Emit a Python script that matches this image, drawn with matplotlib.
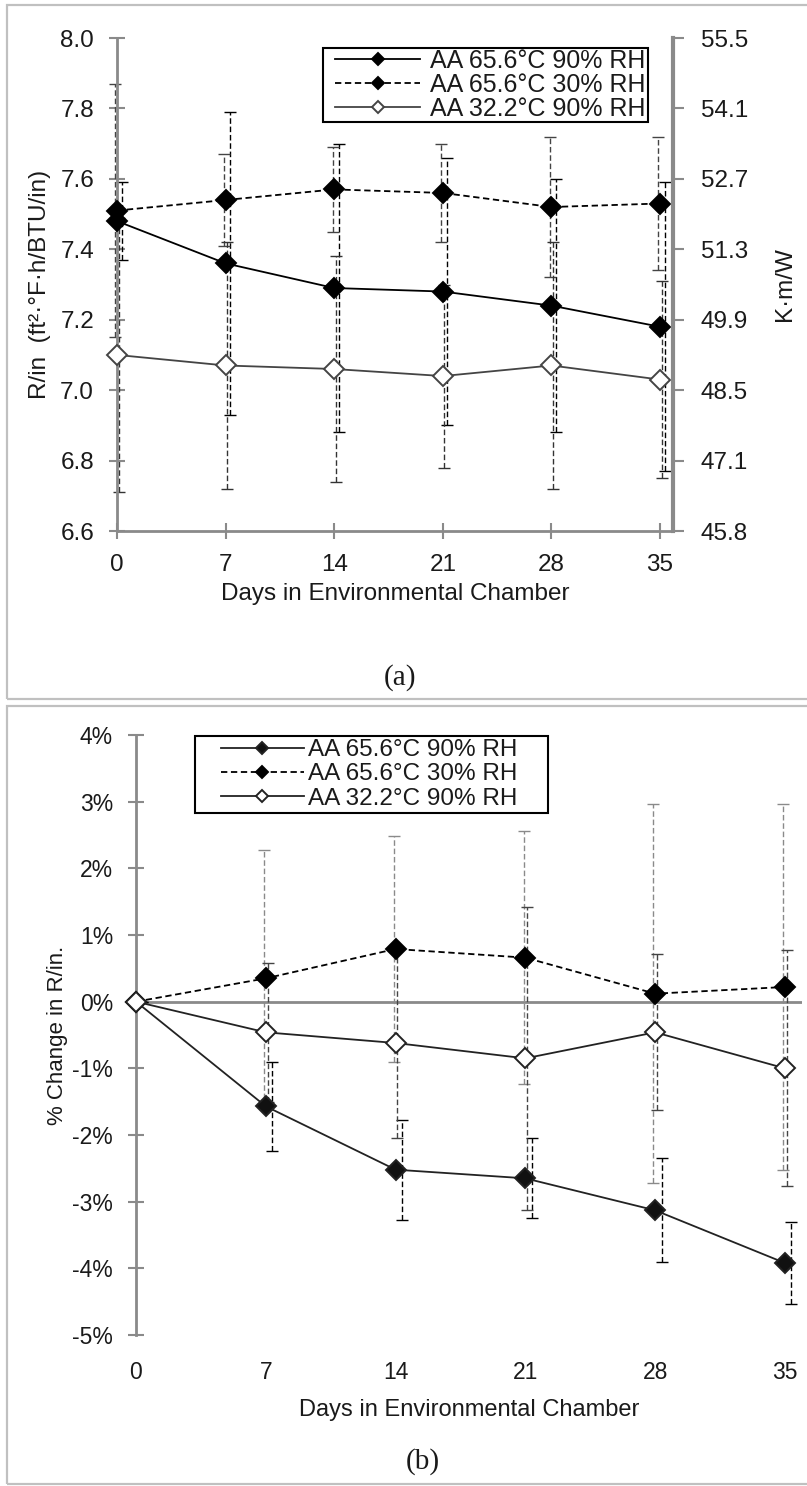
import numpy as np
import matplotlib.pyplot as plt
from matplotlib.patches import Rectangle

# Datos
days = [0, 7, 14, 21, 28, 35]
series_names = ['AA 65.6°C 90% RH', 'AA 65.6°C 30% RH', 'AA 32.2°C 90% RH']

# R/in (ft²·°F·h/BTU/in)
r_hot_wet = [7.48, 7.36, 7.29, 7.28, 7.24, 7.18]
r_hot_dry = [7.51, 7.54, 7.57, 7.56, 7.52, 7.53]
r_warm_wet = [7.10, 7.07, 7.06, 7.04, 7.07, 7.03]
r_hot_wet_err = [0.11, 0.43, 0.41, 0.38, 0.36, 0.41]
r_hot_dry_err = [0.36, 0.13, 0.12, 0.14, 0.20, 0.19]
r_warm_wet_err = [0.39, 0.35, 0.32, 0.26, 0.35, 0.28]

# % de cambio en R/in
pct_hot_wet = [0, -1.57, -2.52, -2.65, -3.13, -3.92]
pct_hot_dry = [0, 0.35, 0.79, 0.66, 0.12, 0.22]
pct_warm_wet = [0, -0.46, -0.62, -0.85, -0.46, -1.00]
pct_hot_wet_err = [0, 0.67, 0.75, 0.60, 0.78, 0.61]
pct_hot_dry_err = [0, 1.93, 1.69, 1.90, 2.84, 2.75]
pct_warm_wet_err = [0, 1.04, 1.43, 2.27, 1.17, 1.77]

r_ticks = [6.6, 6.8, 7.0, 7.2, 7.4, 7.6, 7.8, 8.0]
pct_ticks = [-5, -4, -3, -2, -1, 0, 1, 2, 3, 4]
SI_PER_R_IN = 6.933  # K·m/W por R/in

plt.rcParams['font.family'] = ['Liberation Sans', 'DejaVu Sans']

W, H = 807, 1486
AXIS_GRAY = '#8a8a8a'
TEXT = '#1a1a1a'
DASH = (0, (4, 2))


def px_axes(fig, left, top, right, bottom):
    # posición en píxeles -> fracción de figura
    return fig.add_axes([left / W, 1 - bottom / H, (right - left) / W, (bottom - top) / H])


def draw_series(ax, y, err, line_color, ls, face, ecolor, offset, label):
    x = np.array(days, dtype=float)
    eb = ax.errorbar(x + offset, y, yerr=err, fmt='none', ecolor=ecolor,
                     elinewidth=1.0, capsize=4, capthick=1.0, zorder=2, clip_on=False)
    for lc in eb[2]:
        lc.set_linestyle(DASH)
    line, = ax.plot(x, y, color=line_color, linestyle=ls, linewidth=1.3,
                    marker='D', markersize=10.5, markerfacecolor=face,
                    markeredgecolor=line_color, markeredgewidth=1.4,
                    zorder=3, clip_on=False, label=label)
    return line


def style_left(ax, fs):
    for side in ['top', 'right']:
        ax.spines[side].set_visible(False)
    for side in ['left', 'bottom']:
        ax.spines[side].set_color(AXIS_GRAY)
        ax.spines[side].set_linewidth(2)
    ax.tick_params(axis='both', direction='inout', length=11, width=1.5,
                   color=AXIS_GRAY, labelcolor=TEXT, labelsize=fs, pad=11)


def make_legend(ax, handles, anchor, fs, spacing, textpad, pads):
    # leyenda sin marco; el marco se dibuja aparte con márgenes propios
    fig = ax.figure
    leg = ax.legend(handles=handles, loc='upper left',
                    bbox_to_anchor=(anchor[0] / W, 1 - anchor[1] / H),
                    bbox_transform=fig.transFigure, fontsize=fs, frameon=False,
                    borderpad=0, labelspacing=spacing, handlelength=3.4,
                    handletextpad=textpad, borderaxespad=0, markerscale=0.6)
    leg.set_zorder(6)
    for t in leg.get_texts():
        t.set_color(TEXT)

    fig.canvas.draw()
    bb = leg.get_window_extent()
    left, right, top, bottom = pads
    frame = Rectangle(((bb.x0 - left) / W, (bb.y0 - bottom) / H),
                      (bb.width + left + right) / W, (bb.height + top + bottom) / H,
                      transform=fig.transFigure, facecolor='white', edgecolor='black',
                      linewidth=1.5, zorder=5, clip_on=False)
    ax.add_artist(frame)
    return leg


def panel_a(fig):
    ax = px_axes(fig, 117, 38, 673, 531)
    h1 = draw_series(ax, r_hot_wet, r_hot_wet_err, 'black', '-', 'black', 'black', 0.3, series_names[0])
    h2 = draw_series(ax, r_hot_dry, r_hot_dry_err, 'black', (0, (3.5, 2)), 'black', '#444444', -0.1, series_names[1])
    h3 = draw_series(ax, r_warm_wet, r_warm_wet_err, '#444444', '-', 'white', '#333333', 0.1, series_names[2])

    ax.set_xlim(0, 35.84)
    ax.set_ylim(r_ticks[0], r_ticks[-1])
    ax.set_xticks(days)
    ax.set_yticks(r_ticks)
    ax.set_yticklabels([f'{v:.1f}' for v in r_ticks])
    style_left(ax, 17.5)

    ax.set_ylabel('R/in  (ft²·°F·h/BTU/in)', fontsize=17.5, color=TEXT, va='center')
    ax.yaxis.set_label_coords((40 - 117) / 556, 0.5)
    ax.set_xlabel('Days in Environmental Chamber', fontsize=17.5, color=TEXT, va='center')
    ax.xaxis.set_label_coords(0.5, -(594 - 531) / 493)

    # eje secundario en unidades SI
    ax2 = ax.twinx()
    ax2.set_ylim(r_ticks[0], r_ticks[-1])
    ax2.set_yticks(r_ticks)
    ax2.set_yticklabels([f'{v * SI_PER_R_IN:.1f}' for v in r_ticks])
    for side in ['top', 'left', 'bottom']:
        ax2.spines[side].set_visible(False)
    ax2.spines['right'].set_color(AXIS_GRAY)
    ax2.spines['right'].set_linewidth(3)
    ax2.tick_params(axis='y', direction='out', length=8, width=1.5,
                    color=AXIS_GRAY, labelcolor=TEXT, labelsize=17.5, pad=12)
    ax2.set_ylabel('K·m/W', fontsize=17.5, color=TEXT, va='center')
    ax2.yaxis.set_label_coords((785 - 117) / 556, 0.5)

    make_legend(ax2, [h1, h2, h3], (335, 49), 18, 0.0, 0.4, (12, 2, 1, 1))


def panel_b(fig):
    ax = px_axes(fig, 136, 735, 802, 1335)
    ax.axhline(0, color=AXIS_GRAY, linewidth=2, zorder=1)
    h1 = draw_series(ax, pct_hot_wet, pct_hot_wet_err, '#222222', '-', '#111111', 'black', 0.35, series_names[0])
    h2 = draw_series(ax, pct_hot_dry, pct_hot_dry_err, 'black', (0, (3.5, 2)), 'black', '#8a8a8a', -0.1, series_names[1])
    h3 = draw_series(ax, pct_warm_wet, pct_warm_wet_err, '#222222', '-', 'white', '#444444', 0.1, series_names[2])

    ax.set_xlim(0, 35.92)
    ax.set_ylim(pct_ticks[0], pct_ticks[-1])
    ax.set_xticks(days)
    ax.set_yticks(pct_ticks)
    ax.set_yticklabels([f'{v}%' for v in pct_ticks])
    style_left(ax, 16.5)
    ax.spines['bottom'].set_visible(False)
    ax.tick_params(axis='x', length=0, pad=19)

    ax.set_ylabel('% Change in R/in.', fontsize=16, color=TEXT, va='center')
    ax.yaxis.set_label_coords((58 - 136) / 666, 0.5)
    ax.set_xlabel('Days in Environmental Chamber', fontsize=17, color=TEXT, va='center')
    ax.xaxis.set_label_coords(0.5, -(1410 - 1335) / 600)

    make_legend(ax, [h1, h2, h3], (221, 739), 17.5, 0.1, 0.2, (26, 30, 3, 3))


def main():
    fig = plt.figure(figsize=(W / 100, H / 100), dpi=100)

    # marcos de cada subfigura
    for top, bottom in [(5, 699), (706, 1484)]:
        fig.patches.append(Rectangle((7 / W, 1 - bottom / H), (812 - 7) / W, (bottom - top) / H,
                                     transform=fig.transFigure, fill=False,
                                     edgecolor='#c0c0c0', linewidth=1.6))

    panel_a(fig)
    panel_b(fig)

    fig.text(400 / W, 1 - 678 / H, '(a)', family='Liberation Serif', fontsize=21,
             ha='center', va='center', color=TEXT)
    fig.text(423 / W, 1 - 1462 / H, '(b)', family='Liberation Serif', fontsize=21,
             ha='center', va='center', color=TEXT)

    fig.savefig('out.png', dpi=100)


if __name__ == "__main__":
    main()
